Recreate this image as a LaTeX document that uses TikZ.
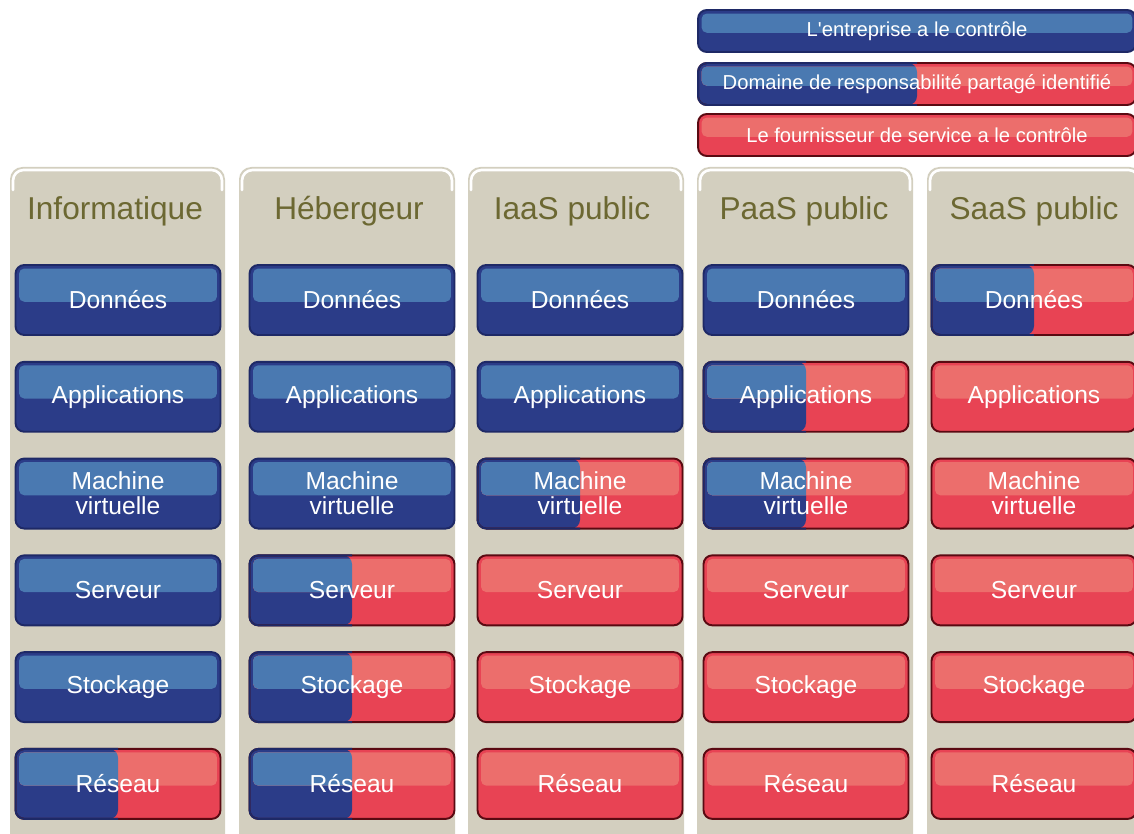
\documentclass[tikz,border=0pt]{standalone}
\usepackage{fontspec}
\newfontfamily\arial{Liberation Sans}

\definecolor{panelgray}{HTML}{D3CFBF}
\definecolor{headolive}{HTML}{6C6832}
\definecolor{bluehi}{HTML}{4A79B1}
\definecolor{bluelow}{HTML}{2B3C88}
\definecolor{blueedge}{HTML}{1E2966}
\definecolor{redhi}{HTML}{EC6E6C}
\definecolor{redlow}{HTML}{E84354}
\definecolor{rededge}{HTML}{5A0A12}

\tikzset{
  cell/.style={rounded corners=5pt, minimum width=4.1cm, minimum height=1.4cm,
    inner sep=0pt, outer sep=0pt, line width=1.1pt, text=white, align=center,
    font=\arial\fontsize{14pt}{14.2pt}\selectfont},
  legend/.style={minimum width=8.76cm, minimum height=0.84cm,
    font=\arial\fontsize{11.5pt}{12pt}\selectfont},
  head/.style={text=headolive, font=\arial\fontsize{18pt}{18pt}\selectfont},
  ours/.style={cell, draw=blueedge, fill=bluelow,
    path picture={\fill[bluehi, rounded corners=3pt]
      ([xshift=2pt,yshift=-2pt]path picture bounding box.north west) rectangle
      ([xshift=-2pt,yshift=-1pt]path picture bounding box.east);}},
  theirs/.style={cell, draw=rededge, fill=redlow,
    path picture={\fill[redhi, rounded corners=3pt]
      ([xshift=2pt,yshift=-2pt]path picture bounding box.north west) rectangle
      ([xshift=-2pt,yshift=-1pt]path picture bounding box.east);}},
  shared/.style={cell, draw=rededge, fill=redlow,
    path picture={
      \fill[bluelow] (path picture bounding box.south west) rectangle (path picture bounding box.north);
      \fill[redhi, rounded corners=3pt]
        ([xshift=2pt,yshift=-2pt]path picture bounding box.north west) rectangle
        ([xshift=-2pt,yshift=-1pt]path picture bounding box.east);
      \begin{scope}
        \clip (path picture bounding box.south west) rectangle (path picture bounding box.north);
        \fill[bluehi, rounded corners=3pt]
          ([xshift=2pt,yshift=-2pt]path picture bounding box.north west) rectangle
          ([xshift=-2pt,yshift=-1pt]path picture bounding box.east);
      \end{scope}}}
}

\begin{document}
\begin{tikzpicture}[x=0.02cm, y=-0.02cm, node distance=1.936cm]
\useasboundingbox (0,0) rectangle (1134,834);
\clip (0,0) rectangle (1134,834);

% panels
\foreach \xl/\xr in {10/225, 239/455, 468/684, 697/913, 927/1142} {
  \fill[panelgray, rounded corners=7pt] (\xl,870) -- (\xl,167) -- (\xr,167) -- (\xr,870) -- cycle;
  \draw[white, line width=1.5pt, line cap=round, rounded corners=6pt]
    (\xl+3,190) -- (\xl+3,170) -- (\xr-3,170) -- (\xr-3,190);
}

% legend
\node (leg1) [ours, legend] at (917,31) {L'entreprise a le contrôle};
\node (leg2) [shared, legend] at (917,84) {Domaine de responsabilité partagé identifié};
\node (leg3) [theirs, legend] at (917,135) {Le fournisseur de service a le contrôle};

% headers
\node (h1) [head] at (115,211) {Informatique};
\node (h2) [head] at (349,211) {Hébergeur};
\node (h3) [head] at (572,211) {IaaS public};
\node (h4) [head] at (804,211) {PaaS public};
\node (h5) [head] at (1034,211) {SaaS public};

% Informatique
\node (don1) [ours] at (118,300) {Données};
\node (app1) [ours] [below of = don1] {Applications};
\node (vm1) [ours] [below of = app1] {Machine\\virtuelle};
\node (srv1) [ours] [below of = vm1] {Serveur};
\node (sto1) [ours] [below of = srv1] {Stockage};
\node (res1) [shared] [below of = sto1] {Réseau};

% Hebergeur
\node (don2) [ours] at (352,300) {Données};
\node (app2) [ours] [below of = don2] {Applications};
\node (vm2) [ours] [below of = app2] {Machine\\virtuelle};
\node (srv2) [shared] [below of = vm2] {Serveur};
\node (sto2) [shared] [below of = srv2] {Stockage};
\node (res2) [shared] [below of = sto2] {Réseau};

% IaaS
\node (don3) [ours] at (580,300) {Données};
\node (app3) [ours] [below of = don3] {Applications};
\node (vm3) [shared] [below of = app3] {Machine\\virtuelle};
\node (srv3) [theirs] [below of = vm3] {Serveur};
\node (sto3) [theirs] [below of = srv3] {Stockage};
\node (res3) [theirs] [below of = sto3] {Réseau};

% PaaS
\node (don4) [ours] at (806,300) {Données};
\node (app4) [shared] [below of = don4] {Applications};
\node (vm4) [shared] [below of = app4] {Machine\\virtuelle};
\node (srv4) [theirs] [below of = vm4] {Serveur};
\node (sto4) [theirs] [below of = srv4] {Stockage};
\node (res4) [theirs] [below of = sto4] {Réseau};

% SaaS
\node (don5) [shared] at (1034,300) {Données};
\node (app5) [theirs] [below of = don5] {Applications};
\node (vm5) [theirs] [below of = app5] {Machine\\virtuelle};
\node (srv5) [theirs] [below of = vm5] {Serveur};
\node (sto5) [theirs] [below of = srv5] {Stockage};
\node (res5) [theirs] [below of = sto5] {Réseau};

% blue edge on the left half of shared cells
\foreach \c in {leg2, res1, srv2, sto2, res2, vm3, app4, vm4, don5} {
  \begin{scope}
    \clip ([shift={(-3pt,-3pt)}]\c.south west) rectangle ([yshift=3pt]\c.north);
    \draw[blueedge, line width=1.1pt, rounded corners=5pt] (\c.south west) rectangle (\c.north east);
  \end{scope}
}
\end{tikzpicture}
\end{document}
